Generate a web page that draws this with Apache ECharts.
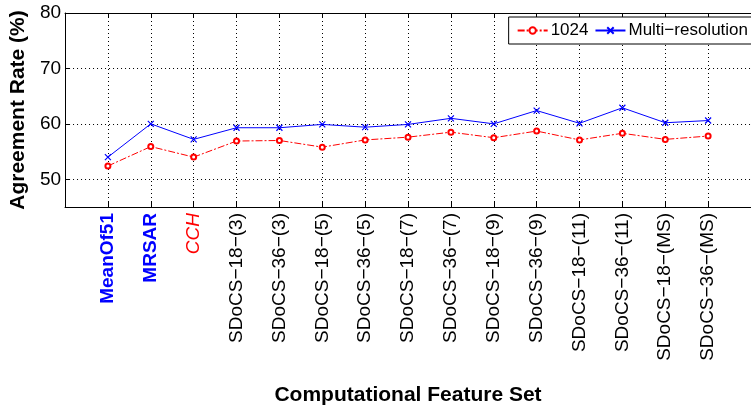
<!DOCTYPE html>
<html>
<head>
<meta charset="utf-8">
<script src="https://cdn.jsdelivr.net/npm/echarts@6/dist/echarts.min.js"></script>
<style>
  html, body { margin: 0; padding: 0; background: #fff; }
  #chart { width: 751px; height: 412px; }
</style>
</head>
<body>
<div id="chart"></div>
<script>
// feature sets (blank slots at both ends so the points sit one step in from the axes)
const categories = ["", "MeanOf51", "MRSAR", "CCH",
  "SDoCS\u221218\u2212(3)", "SDoCS\u221236\u2212(3)", "SDoCS\u221218\u2212(5)", "SDoCS\u221236\u2212(5)",
  "SDoCS\u221218\u2212(7)", "SDoCS\u221236\u2212(7)", "SDoCS\u221218\u2212(9)", "SDoCS\u221236\u2212(9)",
  "SDoCS\u221218\u2212(11)", "SDoCS\u221236\u2212(11)", "SDoCS\u221218\u2212(MS)", "SDoCS\u221236\u2212(MS)", ""];

const rate1024 = ["-", 52.4, 55.9, 54.0, 56.9, 57.0, 55.8, 57.1, 57.6, 58.5, 57.5, 58.7, 57.1, 58.3, 57.2, 57.8, "-"];
const rateMulti = ["-", 54.0, 60.0, 57.2, 59.3, 59.3, 59.9, 59.4, 59.9, 61.0, 60.0, 62.4, 60.1, 62.9, 60.2, 60.6, "-"];

const yTicks = [50, 60, 70, 80];

const font = "'Liberation Sans', Arial, sans-serif";
const chart = echarts.init(document.getElementById("chart"));

function labelFmt(v) {
  if (v === "MeanOf51" || v === "MRSAR") return "{blue|" + v + "}";
  if (v === "CCH") return "{red|" + v + "}";
  return v;
}

chart.setOption({
  animation: false,
  grid: { left: 59, right: -2, top: 13, bottom: 205, containLabel: false },
  legend: {
    top: 17, right: -3,
    orient: "horizontal",
    itemWidth: 30, itemHeight: 8, itemGap: 6,
    padding: [5, 6, 5, 8],
    borderColor: "#000", borderWidth: 1, borderRadius: 0,
    backgroundColor: "#fff",
    textStyle: { fontFamily: font, fontSize: 17, color: "#000", padding: [0, 0, 0, -2] },
    data: ["1024", "Multi\u2212resolution"]
  },
  xAxis: [
    {
      type: "category",
      data: categories,
      boundaryGap: false,
      axisLine: { lineStyle: { color: "#000", width: 1 } },
      axisTick: { inside: true, length: 5, lineStyle: { color: "#000" } },
      axisLabel: {
        rotate: 90, margin: 6, interval: 0,
        fontFamily: font, fontSize: 19, color: "#000",
        formatter: labelFmt,
        rich: {
          blue: { color: "#0000ff", fontWeight: "bold", fontFamily: font, fontSize: 19 },
          red: { color: "#ff0000", fontStyle: "italic", fontFamily: font, fontSize: 19 }
        }
      },
      splitLine: { show: true, interval: 0, lineStyle: { color: "#000", type: [1, 3], width: 1 } },
      name: "Computational Feature Set",
      nameLocation: "middle",
      nameGap: 178,
      nameTextStyle: { fontFamily: font, fontSize: 21, fontWeight: "bold", color: "#000" }
    },
    {
      type: "category",
      data: categories,
      boundaryGap: false,
      position: "top",
      axisLine: { lineStyle: { color: "#000", width: 1 } },
      axisTick: { inside: true, length: 5, interval: 0, lineStyle: { color: "#000" } },
      axisLabel: { show: false },
      splitLine: { show: false }
    }
  ],
  yAxis: [
    {
      type: "value",
      min: 45, max: 80, interval: 5,
      axisLine: { show: true, lineStyle: { color: "#000", width: 1 } },
      axisTick: { show: true, inside: true, length: 5, customValues: yTicks, lineStyle: { color: "#000" } },
      axisLabel: {
        customValues: yTicks,
        margin: 4,
        fontFamily: font, fontSize: 19, color: "#000"
      },
      splitLine: { show: true, lineStyle: { color: "#000", type: [1, 3], width: 1 } },
      name: "Agreement Rate (%)",
      nameLocation: "middle",
      nameGap: 28,
      nameTextStyle: { fontFamily: font, fontSize: 21, fontWeight: "bold", color: "#000" }
    },
    {
      type: "value",
      min: 45, max: 80, interval: 5,
      position: "right",
      axisLine: { show: true, lineStyle: { color: "#000", width: 1 } },
      axisTick: { show: false },
      axisLabel: { show: false },
      splitLine: { show: false }
    }
  ],
  series: [
    {
      name: "1024",
      type: "line",
      data: rate1024,
      symbol: "emptyCircle",
      symbolSize: 5,
      showAllSymbol: true,
      color: "#ff0000",
      lineStyle: { color: "#ff0000", width: 1, type: [7, 2, 2, 2] },
      itemStyle: { color: "#ff0000", borderColor: "#ff0000", borderWidth: 1.2 }
    },
    {
      name: "Multi\u2212resolution",
      type: "line",
      data: rateMulti,
      symbol: "path://M0,0L10,10M10,0L0,10",
      symbolSize: 6,
      showAllSymbol: true,
      color: "#0000ff",
      lineStyle: { color: "#0000ff", width: 1 },
      itemStyle: { color: "#0000ff", borderColor: "#0000ff", borderWidth: 1.2 }
    }
  ]
});
</script>
</body>
</html>
